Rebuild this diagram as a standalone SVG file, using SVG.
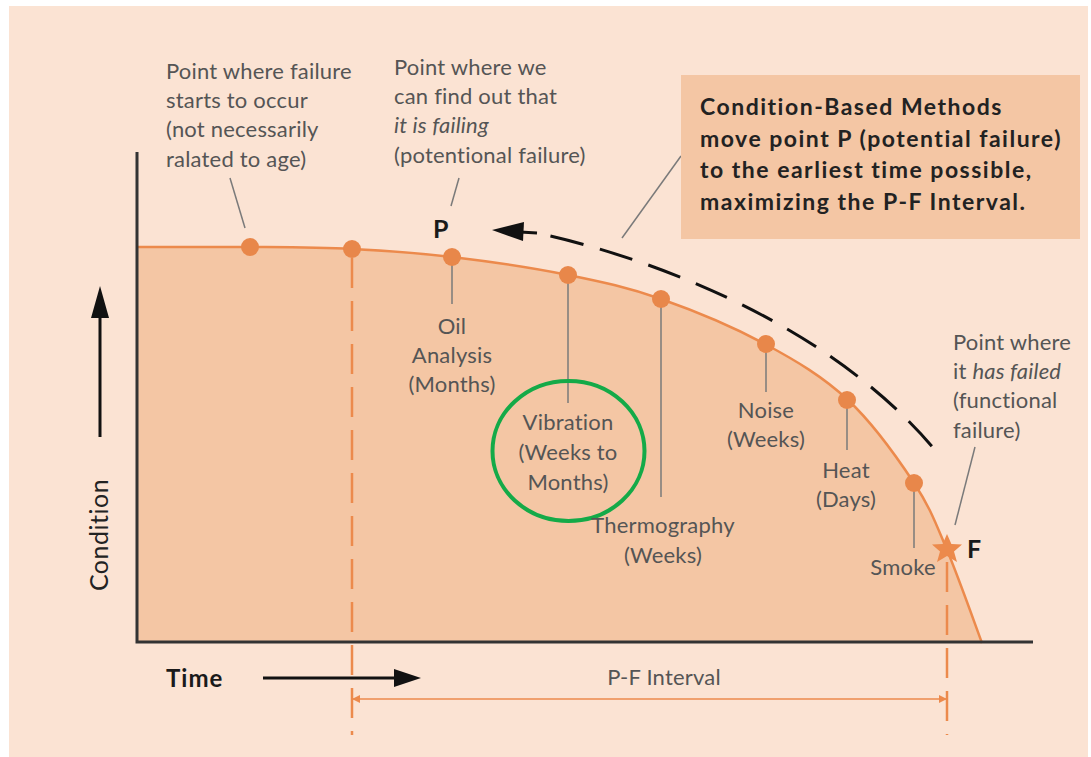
<svg xmlns="http://www.w3.org/2000/svg" width="1091" height="757" viewBox="0 0 1091 757">
<defs>
<style>
.lbl{font-family:Lato,"Liberation Sans",sans-serif;font-size:22px;letter-spacing:0.2px;fill:#555}
.lblc{font-family:Lato,"Liberation Sans",sans-serif;font-size:22px;letter-spacing:0.2px;fill:#555;text-anchor:middle}
.bold{font-family:Lato,"Liberation Sans",sans-serif;font-weight:bold;fill:#1a1a1a}
.box{font-family:Lato,"Liberation Sans",sans-serif;font-weight:bold;fill:#222;font-size:23px;letter-spacing:1.5px}
.dot{fill:#E8874A}
.lead{stroke:#7a7a7a;stroke-width:1.5;fill:none}
.vdash{stroke:#EC8A4C;stroke-width:2.5;stroke-dasharray:30 13;fill:none}
</style>
<marker id="oa" viewBox="0 0 10 10" refX="10" refY="5" markerWidth="10" markerHeight="8" markerUnits="userSpaceOnUse" orient="auto-start-reverse"><path d="M0,0 L10,5 L0,10 z" fill="#EC8A4C"/></marker>
</defs>
<rect x="9" y="6" width="1079" height="751" fill="#FBE3D3"/>
<g id="chart">
<path d="M137,247 L250,247 C285.8,247.3 318.3,247.3 352,249 C385.7,250.7 416,252.7 452,257 C488,261.3 533.2,268 568,275 C602.8,282 628.2,287.5 661,299 C693.8,310.5 733.8,327.2 765,344 C796.2,360.8 823.2,376.8 848,400 C872.8,423.2 897.5,458 914,483 C930.5,508 935.7,523.3 947,550 C958.3,576.7 976.2,627.5 982,643 L137,643 Z" fill="#F4C6A4"/>
<path d="M137,247 L250,247 C285.8,247.3 318.3,247.3 352,249 C385.7,250.7 416,252.7 452,257 C488,261.3 533.2,268 568,275 C602.8,282 628.2,287.5 661,299 C693.8,310.5 733.8,327.2 765,344 C796.2,360.8 823.2,376.8 848,400 C872.8,423.2 897.5,458 914,483 C930.5,508 935.7,523.3 947,550 C958.3,576.7 976.2,627.5 982,643" fill="none" stroke="#EC8A4C" stroke-width="2.5"/>
<path d="M137,152 L137,642 L1033,642" fill="none" stroke="#333" stroke-width="3"/>
</g>
<g id="connectors">
<line class="vdash" x1="352" y1="258" x2="352" y2="735"/>
<line class="vdash" x1="947" y1="562" x2="947" y2="735"/>
<line x1="352" y1="699" x2="947" y2="699" stroke="#EC8A4C" stroke-width="1.5" marker-start="url(#oa)" marker-end="url(#oa)"/>
<line class="lead" x1="230" y1="178" x2="245" y2="228"/>
<line class="lead" x1="459" y1="178" x2="451" y2="206"/>
<line class="lead" x1="681" y1="156" x2="622" y2="238"/>
<line class="lead" x1="975" y1="447" x2="955" y2="525"/>
<line class="lead" x1="452" y1="258" x2="452" y2="304"/>
<line class="lead" x1="568" y1="275" x2="568" y2="403"/>
<line class="lead" x1="661" y1="299" x2="661" y2="497"/>
<line class="lead" x1="766" y1="345" x2="766" y2="392"/>
<line class="lead" x1="847" y1="400" x2="847" y2="450"/>
<line class="lead" x1="914" y1="483" x2="914" y2="548"/>
<path d="M537,233 C640,255 830,320 940,456" fill="none" stroke="#111" stroke-width="3" stroke-dasharray="34 17" stroke-dashoffset="-14"/>
<line x1="520" y1="232" x2="537" y2="233" stroke="#111" stroke-width="3"/>
<path d="M492,230 L524,222 L523,241 Z" fill="#111"/>
<line x1="100" y1="437" x2="100" y2="305" stroke="#111" stroke-width="3"/>
<path d="M100,286 L91,318 L109,318 Z" fill="#111"/>
<line x1="263" y1="678" x2="398" y2="678" stroke="#111" stroke-width="3"/>
<path d="M421,678 L394,669 L394,687 Z" fill="#111"/>
</g>
<g id="dots">
<circle class="dot" cx="250" cy="247" r="9"/>
<circle class="dot" cx="352" cy="249" r="9"/>
<circle class="dot" cx="452" cy="257" r="9"/>
<circle class="dot" cx="568" cy="275" r="9"/>
<circle class="dot" cx="661" cy="299" r="9"/>
<circle class="dot" cx="766" cy="344" r="9"/>
<circle class="dot" cx="847" cy="400" r="9"/>
<circle class="dot" cx="914" cy="483" r="9"/>
<path d="M947,534 L951.4,544 L962,544.5 L954,551.5 L957,562 L947,556 L937,562 L940,551.5 L932,544.5 L942.6,544 Z" fill="#EC8A4C"/>
</g>
<g id="note-start">
<text class="lbl" x="166" y="79">Point where failure</text>
<text class="lbl" x="166" y="108">starts to occur</text>
<text class="lbl" x="166" y="137">(not necessarily</text>
<text class="lbl" x="166" y="167">ralated to age)</text>
</g>
<g id="note-p">
<text class="lbl" x="394" y="75">Point where we</text>
<text class="lbl" x="394" y="104">can find out that</text>
<text class="lbl" x="394" y="133" font-style="italic">it is failing</text>
<text class="lbl" x="394" y="163">(potentional failure)</text>
<text class="bold" x="433" y="238" font-size="25">P</text>
</g>
<g id="note-box">
<rect x="681" y="75" width="399" height="164" fill="#F4C6A4"/>
<text class="box" x="700" y="115">Condition-Based Methods</text>
<text class="box" x="700" y="147">move point P (potential failure)</text>
<text class="box" x="700" y="178">to the earliest time possible,</text>
<text class="box" x="700" y="210">maximizing the P-F Interval.</text>
</g>
<g id="note-f">
<text class="lbl" x="953" y="350">Point where</text>
<text class="lbl" x="953" y="379">it <tspan font-style="italic">has failed</tspan></text>
<text class="lbl" x="953" y="408">(functional</text>
<text class="lbl" x="953" y="438">failure)</text>
<text class="bold" x="967" y="558" font-size="25">F</text>
</g>
<g id="oil"><text class="lblc" x="452" y="334">Oil</text><text class="lblc" x="452" y="363">Analysis</text><text class="lblc" x="452" y="392">(Months)</text></g>
<g id="vibration"><text class="lblc" x="568" y="430">Vibration</text><text class="lblc" x="568" y="460">(Weeks to</text><text class="lblc" x="568" y="490">Months)</text>
<ellipse cx="568.5" cy="451" rx="76" ry="70" fill="none" stroke="#14AA48" stroke-width="4"/></g>
<g id="thermography"><text class="lblc" x="663" y="533">Thermography</text><text class="lblc" x="663" y="563">(Weeks)</text></g>
<g id="noise"><text class="lblc" x="766" y="418">Noise</text><text class="lblc" x="766" y="447">(Weeks)</text></g>
<g id="heat"><text class="lblc" x="846" y="478">Heat</text><text class="lblc" x="846" y="507">(Days)</text></g>
<g id="smoke"><text class="lblc" x="903" y="575">Smoke</text></g>
<g id="axes-labels">
<text class="bold" x="166" y="687" font-size="24" letter-spacing="1" fill="#222">Time</text>
<text transform="translate(108,535) rotate(-90)" text-anchor="middle" font-family="Lato, 'Liberation Sans', sans-serif" font-size="25" letter-spacing="0.5" fill="#222">Condition</text>
<text class="lblc" x="664" y="685" font-size="20" letter-spacing="0.5">P-F Interval</text>
</g>
</svg>
